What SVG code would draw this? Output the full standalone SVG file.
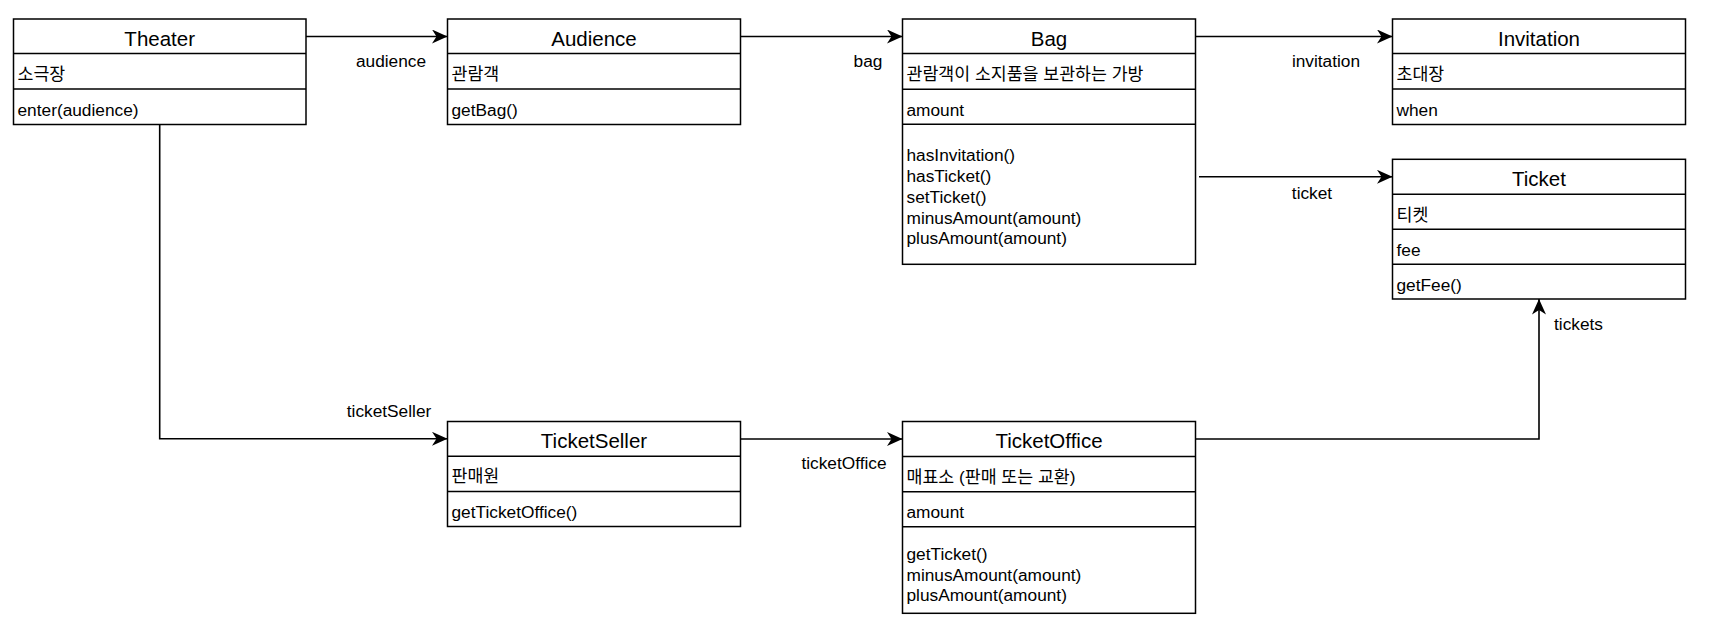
<svg xmlns="http://www.w3.org/2000/svg" width="1714" height="631" viewBox="0 0 1714 631">
<style>
.box{fill:#fff;stroke:#000;stroke-width:1.5}
.div{stroke:#000;stroke-width:1.5}
.hdr{font-family:"Liberation Sans","Noto Sans CJK KR",sans-serif;font-size:20.5px;text-anchor:middle;fill:#000}
.txt{font-family:"Liberation Sans","Noto Sans CJK KR",sans-serif;font-size:17.3px;fill:#000}
.lbl{font-family:"Liberation Sans","Noto Sans CJK KR",sans-serif;font-size:17.3px;fill:#000;text-anchor:middle}
.edge{fill:none;stroke:#000;stroke-width:1.6}
</style>
<defs>
<marker id="arr" markerUnits="userSpaceOnUse" markerWidth="17" markerHeight="15" refX="15.5" refY="7" orient="auto">
<path d="M0,0 L15.5,7 L0,14 L4.5,7 Z" fill="#000"/>
</marker>
</defs>
<rect width="1714" height="631" fill="#fff"/>

<g id="connectors">
<path class="edge" d="M306,36.5 L447.5,36.5" marker-end="url(#arr)"/>
<path class="edge" d="M740.5,36.5 L902.5,36.5" marker-end="url(#arr)"/>
<path class="edge" d="M1195.5,36.5 L1392.5,36.5" marker-end="url(#arr)"/>
<path class="edge" d="M1199,176.8 L1392.5,176.8" marker-end="url(#arr)"/>
<path class="edge" d="M159.7,124.5 L159.7,438.8 L447.5,438.8" marker-end="url(#arr)"/>
<path class="edge" d="M740.5,439 L902.5,439" marker-end="url(#arr)"/>
<path class="edge" d="M1195.5,439 L1539,439 L1539,299" marker-end="url(#arr)"/>
<text class="lbl" x="391" y="66.5">audience</text>
<text class="lbl" x="868" y="66.5">bag</text>
<text class="lbl" x="1326" y="66.5">invitation</text>
<text class="lbl" x="1312" y="198.5">ticket</text>
<text class="lbl" x="389" y="416.5">ticketSeller</text>
<text class="lbl" x="844" y="468.5">ticketOffice</text>
<text class="txt" x="1554" y="329.5">tickets</text>
</g>

<g id="theater">
<rect class="box" x="13.5" y="19" width="292.5" height="105.5"/>
<line class="div" x1="13.5" y1="53.5" x2="306" y2="53.5"/>
<line class="div" x1="13.5" y1="89" x2="306" y2="89"/>
<text class="hdr" x="159.7" y="45.5">Theater</text>
<text class="txt" x="17.5" y="80">소극장</text>
<text class="txt" x="17.5" y="115.5">enter(audience)</text>
</g>

<g id="audience">
<rect class="box" x="447.5" y="19" width="293" height="105.5"/>
<line class="div" x1="447.5" y1="53.5" x2="740.5" y2="53.5"/>
<line class="div" x1="447.5" y1="89" x2="740.5" y2="89"/>
<text class="hdr" x="594" y="45.5">Audience</text>
<text class="txt" x="451.5" y="80">관람객</text>
<text class="txt" x="451.5" y="115.5">getBag()</text>
</g>

<g id="bag">
<rect class="box" x="902.5" y="19" width="293" height="245.3"/>
<line class="div" x1="902.5" y1="53.5" x2="1195.5" y2="53.5"/>
<line class="div" x1="902.5" y1="89.3" x2="1195.5" y2="89.3"/>
<line class="div" x1="902.5" y1="124.3" x2="1195.5" y2="124.3"/>
<text class="hdr" x="1049" y="45.5">Bag</text>
<text class="txt" x="906.5" y="80">관람객이 소지품을 보관하는 가방</text>
<text class="txt" x="906.5" y="115.7">amount</text>
<text class="txt" x="906.5" y="161.3">hasInvitation()</text>
<text class="txt" x="906.5" y="182.1">hasTicket()</text>
<text class="txt" x="906.5" y="202.8">setTicket()</text>
<text class="txt" x="906.5" y="223.6">minusAmount(amount)</text>
<text class="txt" x="906.5" y="244.3">plusAmount(amount)</text>
</g>

<g id="invitation">
<rect class="box" x="1392.5" y="19" width="293" height="105.5"/>
<line class="div" x1="1392.5" y1="53.5" x2="1685.5" y2="53.5"/>
<line class="div" x1="1392.5" y1="89" x2="1685.5" y2="89"/>
<text class="hdr" x="1539" y="45.5">Invitation</text>
<text class="txt" x="1396.5" y="80">초대장</text>
<text class="txt" x="1396.5" y="115.5">when</text>
</g>

<g id="ticket">
<rect class="box" x="1392.5" y="159.3" width="293" height="139.7"/>
<line class="div" x1="1392.5" y1="194.3" x2="1685.5" y2="194.3"/>
<line class="div" x1="1392.5" y1="229.3" x2="1685.5" y2="229.3"/>
<line class="div" x1="1392.5" y1="264.3" x2="1685.5" y2="264.3"/>
<text class="hdr" x="1539" y="185.7">Ticket</text>
<text class="txt" x="1396.5" y="220.5">티켓</text>
<text class="txt" x="1396.5" y="255.7">fee</text>
<text class="txt" x="1396.5" y="290.7">getFee()</text>
</g>

<g id="ticketseller">
<rect class="box" x="447.5" y="421.5" width="293" height="105"/>
<line class="div" x1="447.5" y1="456.3" x2="740.5" y2="456.3"/>
<line class="div" x1="447.5" y1="491.6" x2="740.5" y2="491.6"/>
<text class="hdr" x="594" y="448.2">TicketSeller</text>
<text class="txt" x="451.5" y="482.2">판매원</text>
<text class="txt" x="451.5" y="518">getTicketOffice()</text>
</g>

<g id="ticketoffice">
<rect class="box" x="902.5" y="421.5" width="293" height="191.8"/>
<line class="div" x1="902.5" y1="456.6" x2="1195.5" y2="456.6"/>
<line class="div" x1="902.5" y1="491.7" x2="1195.5" y2="491.7"/>
<line class="div" x1="902.5" y1="526.7" x2="1195.5" y2="526.7"/>
<text class="hdr" x="1049" y="448.2">TicketOffice</text>
<text class="txt" x="906.5" y="482.7">매표소 (판매 또는 교환)</text>
<text class="txt" x="906.5" y="518">amount</text>
<text class="txt" x="906.5" y="559.9">getTicket()</text>
<text class="txt" x="906.5" y="580.5">minusAmount(amount)</text>
<text class="txt" x="906.5" y="601.1">plusAmount(amount)</text>
</g>
</svg>
